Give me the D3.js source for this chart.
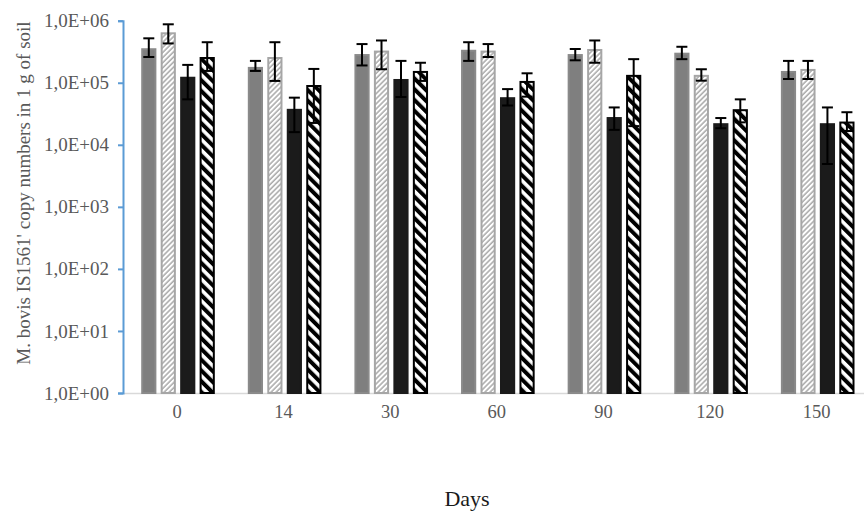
<!DOCTYPE html>
<html>
<head>
<meta charset="utf-8">
<script src="https://cdn.jsdelivr.net/npm/d3@7"></script>
<style>
  html, body { margin: 0; padding: 0; background: #fff; }
  svg { display: block; }
  text { font-family: "Liberation Serif", "DejaVu Serif", serif; }
</style>
</head>
<body>
<svg id="chart" width="864" height="512"></svg>
<script>
// ---- data ----
const days = ["0", "14", "30", "60", "90", "120", "150"];
const seriesNames = ["S1", "S2", "S3", "S4"];

const s1Val = [3.6e5, 1.8e5, 2.9e5, 3.4e5, 2.9e5, 3.05e5, 1.55e5];
const s1Hi  = [5.2e5, 2.25e5, 4.2e5, 4.5e5, 3.5e5, 3.8e5, 2.25e5];
const s1Lo  = [2.6e5, 1.55e5, 1.9e5, 2.25e5, 2.3e5, 2.4e5, 1.15e5];

const s2Val = [6.5e5, 2.6e5, 3.3e5, 3.3e5, 3.5e5, 1.34e5, 1.67e5];
const s2Hi  = [8.75e5, 4.5e5, 4.8e5, 4.2e5, 4.8e5, 1.65e5, 2.25e5];
const s2Lo  = [4.3e5, 1.07e5, 1.65e5, 2.6e5, 2.1e5, 1.08e5, 1.15e5];

const s3Val = [1.25e5, 3.8e4, 1.15e5, 5.85e4, 2.8e4, 2.23e4, 2.23e4];
const s3Hi  = [1.94e5, 5.75e4, 2.25e5, 7.9e4, 4.0e4, 2.7e4, 4.0e4];
const s3Lo  = [5.4e4, 1.6e4, 5.9e4, 4.3e4, 1.74e4, 1.85e4, 4.9e3];

const s4Val = [2.6e5, 9.2e4, 1.55e5, 1.07e5, 1.34e5, 3.75e4, 2.37e4];
const s4Hi  = [4.5e5, 1.67e5, 2.1e5, 1.42e5, 2.4e5, 5.4e4, 3.35e4];
const s4Lo  = [1.55e5, 2.25e4, 1.07e5, 5.97e4, 2.0e4, 2.3e4, 1.67e4];

const yTicks = [1, 10, 100, 1000, 10000, 100000, 1000000];
const yTickLabels = ["1,0E+00", "1,0E+01", "1,0E+02", "1,0E+03", "1,0E+04", "1,0E+05", "1,0E+06"];
const yTitle = "M. bovis IS1561' copy numbers in 1  g of soil";
const xTitle = "Days";

// ---- build table ----
const vals = [s1Val, s2Val, s3Val, s4Val];
const his = [s1Hi, s2Hi, s3Hi, s4Hi];
const los = [s1Lo, s2Lo, s3Lo, s4Lo];
const rows = [];
days.forEach((d, i) => {
  seriesNames.forEach((s, j) => {
    rows.push({ day: d, series: s, v: vals[j][i], hi: his[j][i], lo: los[j][i] });
  });
});

// ---- layout ----
const svg = d3.select("#chart");
const plotLeft = 123, plotRight = 870, plotTop = 20.7, plotBottom = 393;

const x0 = d3.scaleBand().domain(days).range([plotLeft + 0.7, plotRight]).padding(0);
const groupPad = 17.5;
const x1 = d3.scaleBand().domain(seriesNames)
  .range([groupPad, x0.bandwidth() - groupPad + 2]).paddingInner(0.22).paddingOuter(0);
const y = d3.scaleLog().domain([1, 1e6]).range([plotBottom, plotTop]);

// ---- patterns ----
const defs = svg.append("defs");
const hp = 3.6;
const p2 = defs.append("pattern").attr("id", "hatchLight")
  .attr("patternUnits", "userSpaceOnUse").attr("width", hp).attr("height", hp)
  .attr("patternTransform", "rotate(45)");
p2.append("rect").attr("width", hp).attr("height", hp).attr("fill", "#fff");
p2.append("line").attr("x1", 1).attr("y1", 0).attr("x2", 1).attr("y2", hp)
  .attr("stroke", "#9a9a9a").attr("stroke-width", 1.3);

const sp = 7.6;
const p4 = defs.append("pattern").attr("id", "stripeBold")
  .attr("patternUnits", "userSpaceOnUse").attr("width", sp).attr("height", sp)
  .attr("patternTransform", "rotate(-45)");
p4.append("rect").attr("width", sp).attr("height", sp).attr("fill", "#fff");
p4.append("line").attr("x1", 2).attr("y1", 0).attr("x2", 2).attr("y2", sp)
  .attr("stroke", "#000").attr("stroke-width", 4);

const fills = { S1: "#7f7f7f", S2: "url(#hatchLight)", S3: "#1b1b1b", S4: "url(#stripeBold)" };
const strokes = { S1: "#8a8a8a", S2: "#a6a6a6", S3: "#1b1b1b", S4: "#000" };

// ---- x axis line ----
svg.append("line").attr("x1", plotLeft).attr("x2", 864)
  .attr("y1", plotBottom + 0.5).attr("y2", plotBottom + 0.5)
  .attr("stroke", "#d9d9d9").attr("stroke-width", 1.5);

// ---- bars ----
const g = svg.append("g");
g.selectAll("rect.bar").data(rows).join("rect")
  .attr("class", "bar")
  .attr("x", d => x0(d.day) + x1(d.series) + 1)
  .attr("width", x1.bandwidth() - 2)
  .attr("y", d => y(d.v) + 1)
  .attr("height", d => plotBottom - y(d.v) - 1)
  .attr("fill", d => fills[d.series])
  .attr("stroke", d => strokes[d.series])
  .attr("stroke-width", 2);

// ---- error bars ----
const eb = g.selectAll("g.err").data(rows).join("g").attr("class", "err")
  .attr("transform", d => `translate(${x0(d.day) + x1(d.series) + x1.bandwidth() / 2},0)`);
eb.append("line").attr("x1", 0).attr("x2", 0)
  .attr("y1", d => y(d.hi)).attr("y2", d => y(d.lo))
  .attr("stroke", "#000").attr("stroke-width", 2);
eb.append("line").attr("x1", -5.5).attr("x2", 5.5)
  .attr("y1", d => y(d.hi)).attr("y2", d => y(d.hi))
  .attr("stroke", "#000").attr("stroke-width", 2);
eb.append("line").attr("x1", -5.5).attr("x2", 5.5)
  .attr("y1", d => y(d.lo)).attr("y2", d => y(d.lo))
  .attr("stroke", "#000").attr("stroke-width", 2);

// ---- y axis ----
const yAxis = d3.axisLeft(y).tickValues(yTicks)
  .tickFormat((d, i) => yTickLabels[i]).tickSizeInner(5).tickSizeOuter(5).tickPadding(9);
const ya = svg.append("g").attr("transform", `translate(${plotLeft},0)`).call(yAxis);
ya.select(".domain").attr("stroke", "#5b9bd5").attr("stroke-width", 2);
ya.selectAll(".tick line").attr("stroke", "#5b9bd5").attr("stroke-width", 2);
ya.selectAll(".tick text").attr("fill", "#595959")
  .style("font-family", "'Liberation Serif', serif").style("font-size", "19px");

// ---- x axis labels ----
const xAxis = d3.axisBottom(x0).tickSize(0).tickPadding(12);
const xa = svg.append("g").attr("transform", `translate(0,${plotBottom})`).call(xAxis);
xa.select(".domain").remove();
xa.selectAll(".tick text").attr("fill", "#595959")
  .style("font-family", "'Liberation Serif', serif").style("font-size", "18.5px");

// ---- titles ----
svg.append("text").attr("transform", "translate(30,193) rotate(-90)")
  .attr("text-anchor", "middle").attr("fill", "#595959")
  .style("font-size", "19px").text(yTitle);
svg.append("text").attr("x", 467).attr("y", 506)
  .attr("text-anchor", "middle").attr("fill", "#1a1a1a")
  .style("font-size", "22px").text(xTitle);
</script>
</body>
</html>
